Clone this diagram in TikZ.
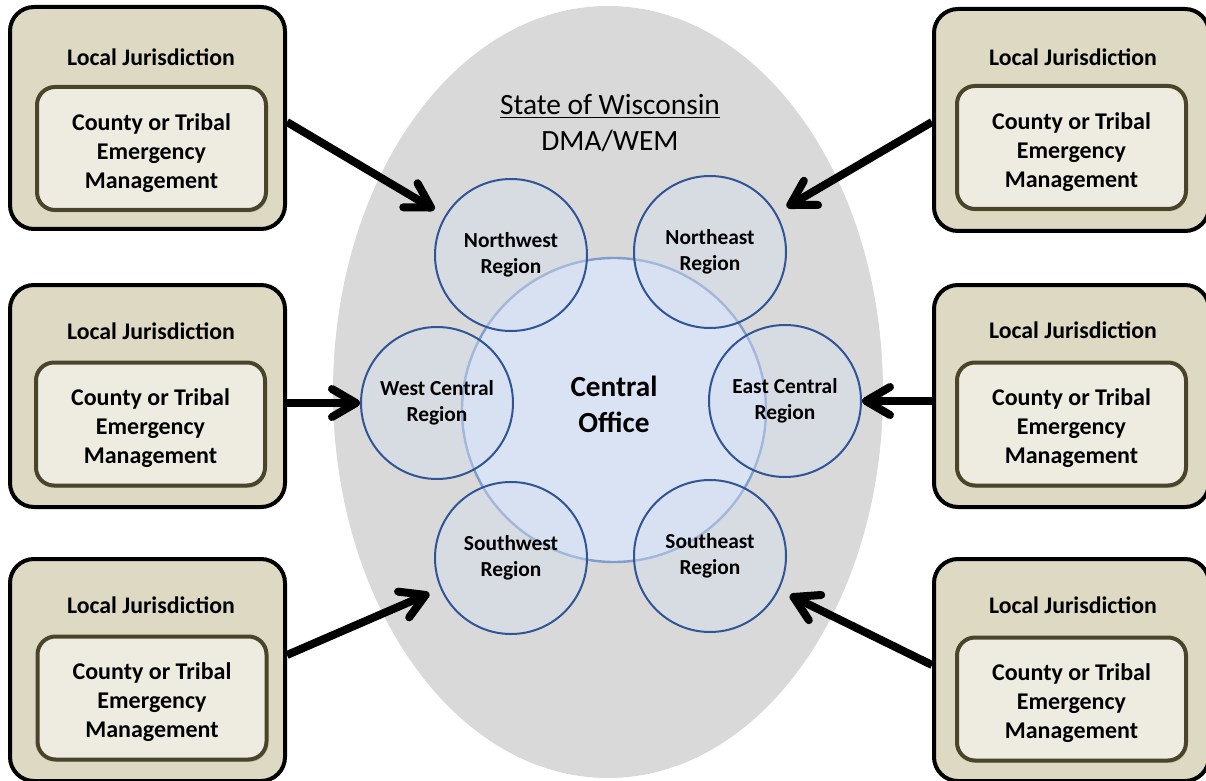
\documentclass[tikz,border=0pt]{standalone}
\usepackage{fontspec}
\setmainfont{Carlito}
\usetikzlibrary{arrows.meta,shadows,shapes.geometric}
\definecolor{JurisClr}{HTML}{DDD9C3}
\definecolor{AgencyClr}{HTML}{EEECE1}
\definecolor{AgencyEdge}{HTML}{4A452A}
\definecolor{StateClr}{HTML}{D9D9D9}
\definecolor{RegionEdge}{HTML}{2F5597}
\definecolor{RegionClr}{HTML}{D6E0F0}
\definecolor{OfficeClr}{HTML}{DAE3F3}
\definecolor{OfficeEdge}{HTML}{819DCD}
\tikzset{
  juris/.style={draw=black,line width=2pt,fill=JurisClr,rounded corners=12pt,
    minimum width=137.5pt,minimum height=111pt,inner sep=0pt},
  jtitle/.style={font=\bfseries\fontsize{11.9}{14}\selectfont},
  agency/.style={draw=AgencyEdge,line width=2pt,fill=AgencyClr,rounded corners=9pt,
    minimum width=114.5pt,minimum height=61.5pt,inner sep=0pt,align=center,
    font=\bfseries\fontsize{12}{14.5}\selectfont,
    drop shadow={shadow xshift=0.6pt,shadow yshift=-1.2pt,opacity=0.3}},
  region/.style={circle,draw=RegionEdge,line width=1pt,fill=RegionClr,fill opacity=0.4,
    text opacity=1,minimum size=76pt,inner sep=0pt,align=center,
    font=\bfseries\fontsize{10.7}{13}\selectfont},
  arr/.style={line width=4pt,-{Straight Barb[length=12pt,width=14pt,line cap=round,line join=round]}}
}

\begin{document}
\begin{tikzpicture}[x=0.5pt,y=-0.5pt]
\useasboundingbox (0,0) rectangle (1206,781);

\node[ellipse,fill=StateClr,minimum width=275pt,minimum height=386pt,inner sep=0pt] (state) at (608,392) {};
\node[align=center,font=\fontsize{14.7}{18}\selectfont] (wem) at (610,123) {\underline{State of Wisconsin}\\DMA/WEM};

\node[circle,draw=OfficeEdge,line width=1.2pt,fill=OfficeClr,minimum size=152pt,inner sep=0pt,
  align=center,font=\bfseries\fontsize{14.6}{18}\selectfont] (co) at (614,410) {Central\\Office\rule[-6pt]{0pt}{6pt}};

\node[region] (nw) at (511,255) {Northwest\\Region};
\node[region] (ne) at (710,252) {Northeast\\Region};
\node[region] (wc) at (437,403) {West Central\\Region};
\node[region] (ec) at (785,401) {East Central\\Region};
\node[region] (sw) at (511,558) {Southwest\\Region};
\node[region] (se) at (710,556) {Southeast\\Region};

\node[juris] (ljA) at (147.5,118) {};
\node[jtitle] (ttlA) at (151,57) {Local Jurisdiction};
\node[agency] (cemA) at (151.5,148.5) {\rule{0pt}{12.7pt}County or Tribal\\Emergency\\Management};

\node[juris] (ljB) at (147.5,396) {};
\node[jtitle] (ttlB) at (151,331) {Local Jurisdiction};
\node[agency] (cemB) at (150.5,424) {\rule{0pt}{12.7pt}County or Tribal\\Emergency\\Management};

\node[juris] (ljC) at (147.5,670) {};
\node[jtitle] (ttlC) at (151,605) {Local Jurisdiction};
\node[agency] (cemC) at (152,698) {\rule{0pt}{12.7pt}County or Tribal\\Emergency\\Management};

\node[juris] (ljD) at (1071.5,120) {};
\node[jtitle] (ttlD) at (1073,57) {Local Jurisdiction};
\node[agency] (cemD) at (1071.5,147.5) {\rule{0pt}{12.7pt}County or Tribal\\Emergency\\Management};

\node[juris] (ljE) at (1071.5,396) {};
\node[jtitle] (ttlE) at (1073,330) {Local Jurisdiction};
\node[agency] (cemE) at (1071.5,424) {\rule{0pt}{12.7pt}County or Tribal\\Emergency\\Management};

\node[juris] (ljF) at (1071.5,670) {};
\node[jtitle] (ttlF) at (1073,605) {Local Jurisdiction};
\node[agency] (cemF) at (1071.5,699) {\rule{0pt}{12.7pt}County or Tribal\\Emergency\\Management};

\draw[arr,shorten >=6pt] ([yshift=-2pt]ljA.east) -- (nw);
\draw[arr] ([yshift=-3.5pt]ljB.east) -- (wc.west);
\draw[arr,shorten >=6pt] ([yshift=7.5pt]ljC.east) -- (sw);
\draw[arr,shorten >=6pt] ([yshift=-1pt]ljD.west) -- (ne);
\draw[arr] ([yshift=-2.5pt]ljE.west) -- (ec.east);
\draw[arr,shorten >=6pt] ([yshift=2.5pt]ljF.west) -- (se);

\end{tikzpicture}
\end{document}
